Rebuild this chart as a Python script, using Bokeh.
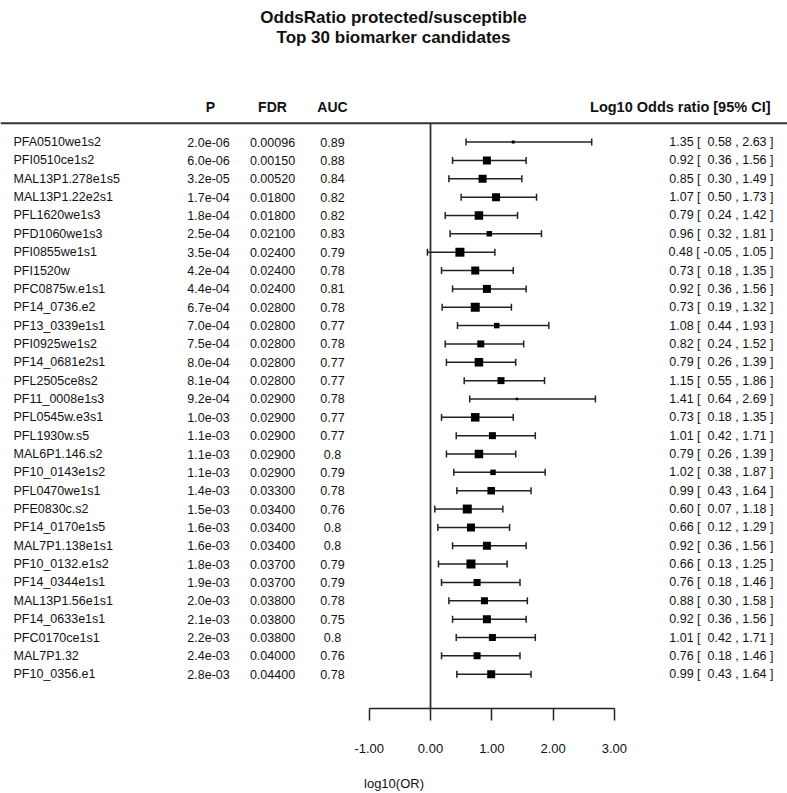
import numpy as np
from bokeh.plotting import figure
from bokeh.models import Range1d, LinearAxis, FixedTicker, NumeralTickFormatter, Span
from bokeh.core.properties import value
from bokeh.embed import file_html
from bokeh.resources import INLINE

# ---------------- data ----------------
names = ["PFA0510we1s2", "PFI0510ce1s2", "MAL13P1.278e1s5", "MAL13P1.22e2s1", "PFL1620we1s3",
         "PFD1060we1s3", "PFI0855we1s1", "PFI1520w", "PFC0875w.e1s1", "PF14_0736.e2",
         "PF13_0339e1s1", "PFI0925we1s2", "PF14_0681e2s1", "PFL2505ce8s2", "PF11_0008e1s3",
         "PFL0545w.e3s1", "PFL1930w.s5", "MAL6P1.146.s2", "PF10_0143e1s2", "PFL0470we1s1",
         "PFE0830c.s2", "PF14_0170e1s5", "MAL7P1.138e1s1", "PF10_0132.e1s2", "PF14_0344e1s1",
         "MAL13P1.56e1s1", "PF14_0633e1s1", "PFC0170ce1s1", "MAL7P1.32", "PF10_0356.e1"]
p_values = [2.0e-06, 6.0e-06, 3.2e-05, 1.7e-04, 1.8e-04, 2.5e-04, 3.5e-04, 4.2e-04, 4.4e-04, 6.7e-04,
            7.0e-04, 7.5e-04, 8.0e-04, 8.1e-04, 9.2e-04, 1.0e-03, 1.1e-03, 1.1e-03, 1.1e-03, 1.4e-03,
            1.5e-03, 1.6e-03, 1.6e-03, 1.8e-03, 1.9e-03, 2.0e-03, 2.1e-03, 2.2e-03, 2.4e-03, 2.8e-03]
fdr = [0.00096, 0.00150, 0.00520, 0.01800, 0.01800, 0.02100, 0.02400, 0.02400, 0.02400, 0.02800,
       0.02800, 0.02800, 0.02800, 0.02800, 0.02900, 0.02900, 0.02900, 0.02900, 0.02900, 0.03300,
       0.03400, 0.03400, 0.03400, 0.03700, 0.03700, 0.03800, 0.03800, 0.03800, 0.04000, 0.04400]
auc = [0.89, 0.88, 0.84, 0.82, 0.82, 0.83, 0.79, 0.78, 0.81, 0.78,
       0.77, 0.78, 0.77, 0.77, 0.78, 0.77, 0.77, 0.8, 0.79, 0.78,
       0.76, 0.8, 0.8, 0.79, 0.79, 0.78, 0.75, 0.8, 0.76, 0.78]
log_or = [1.35, 0.92, 0.85, 1.07, 0.79, 0.96, 0.48, 0.73, 0.92, 0.73,
          1.08, 0.82, 0.79, 1.15, 1.41, 0.73, 1.01, 0.79, 1.02, 0.99,
          0.60, 0.66, 0.92, 0.66, 0.76, 0.88, 0.92, 1.01, 0.76, 0.99]
ci_low = [0.58, 0.36, 0.30, 0.50, 0.24, 0.32, -0.05, 0.18, 0.36, 0.19,
          0.44, 0.24, 0.26, 0.55, 0.64, 0.18, 0.42, 0.26, 0.38, 0.43,
          0.07, 0.12, 0.36, 0.13, 0.18, 0.30, 0.36, 0.42, 0.18, 0.43]
ci_high = [2.63, 1.56, 1.49, 1.73, 1.42, 1.81, 1.05, 1.35, 1.56, 1.32,
           1.93, 1.52, 1.39, 1.86, 2.69, 1.35, 1.71, 1.39, 1.87, 1.64,
           1.18, 1.29, 1.56, 1.25, 1.46, 1.58, 1.56, 1.71, 1.46, 1.64]
box_size = [3, 8, 8, 8, 8.5, 5.5, 9, 8, 8, 9,
            5.5, 7, 8.5, 7, 2.5, 8.5, 7, 8.5, 5.5, 7.5,
            9, 8, 8, 9, 7, 7, 8, 7, 7, 8]
axis_ticks = [-1, 0, 1, 2, 3]
title_lines = ["OddsRatio protected/susceptible", "Top 30 biomarker candidates"]
col_headers = ["P", "FDR", "AUC"]
right_header = "Log10 Odds ratio [95% CI]"

# ---------------- layout ----------------
W, H = 787, 793
OFF = 0
FRAME_H = 710
X0, XS = 430 - OFF, 61.3   # fig px of log10(OR)=0, px per unit
Y0, YS = 142 - OFF, 18.4   # fig px of first row, px per row

def dx(px):
    return (px - OFF - X0) / XS

def dy(py):
    return (py - OFF - Y0) / YS

FONT_NAME = "Liberation Sans"
FONT = value(FONT_NAME)
INK = "#111111"

p = figure(width=W, height=H, output_backend="svg", toolbar_location=None,
           x_range=Range1d(dx(OFF), dx(OFF + W)),
           y_range=Range1d(dy(OFF + FRAME_H), dy(OFF)),
           x_axis_type=None, y_axis_type=None,
           min_border=0, min_border_bottom=H - FRAME_H)
p.outline_line_color = None
p.background_fill_color = "white"
p.border_fill_color = "white"

rows = np.arange(len(names), dtype=float)

# header rule
p.add_layout(Span(location=dy(123), dimension="width", line_color="#333333", line_width=2))
# zero line
p.segment(x0=[0], y0=[dy(123)], x1=[0], y1=[dy(OFF + FRAME_H)], line_color="#333333", line_width=1.8)

# CI whiskers
p.segment(x0=ci_low, y0=rows, x1=ci_high, y1=rows, line_color="#222222", line_width=1.5)
p.scatter(x=list(ci_low) + list(ci_high), y=list(rows) + list(rows), marker="dash",
          angle=np.pi / 2, size=7, line_color="#222222", line_width=1.5)
# point estimates
p.scatter(x=log_or, y=rows, marker="square", size=box_size, fill_color="black", line_color=None)

# title
for i, t in enumerate(title_lines):
    p.text(x=[dx(393)], y=[dy(17 + 20 * i)], text=[t], text_align="center", text_baseline="middle",
           text_font=FONT, text_font_style="bold", text_font_size="17px", text_color=INK)

# column headers
for h, cx in zip(col_headers, [210, 272, 332]):
    p.text(x=[dx(cx)], y=[dy(107)], text=[h], text_align="center", text_baseline="middle",
           text_font=FONT, text_font_style="bold", text_font_size="14px", text_color=INK)
p.text(x=[dx(770)], y=[dy(107)], text=[right_header], text_align="right", text_baseline="middle",
       text_font=FONT, text_font_style="bold", text_font_size="14.5px", text_color=INK)

# table columns
def col(x, texts, align):
    p.text(x=[dx(x)] * len(texts), y=rows, text=texts, text_align=align, text_baseline="middle",
           text_font=FONT, text_font_size="12.5px", text_color=INK)

col(13, names, "left")
col(208, [f"{v:.1e}" for v in p_values], "center")
col(272, [f"{v:.5f}" for v in fdr], "center")
col(332, [str(v) for v in auc], "center")
ci_txt = [f"{o:.2f} [ " + f"{lo:.2f}".rjust(5, "\u00a0") + f" , {hi:.2f} ]"
          for o, lo, hi in zip(log_or, ci_low, ci_high)]
col(773, ci_txt, "right")

# x axis
ax = LinearAxis(ticker=FixedTicker(ticks=axis_ticks), formatter=NumeralTickFormatter(format="0.00"),
                bounds=(-1, 3), major_tick_out=12, major_tick_in=0,
                minor_tick_out=0, minor_tick_in=0,
                axis_line_color="#222222", axis_line_width=1.5,
                major_tick_line_color="#222222", major_tick_line_width=1.5,
                major_label_standoff=23, major_label_text_font=FONT_NAME,
                major_label_text_font_size="13px", major_label_text_color=INK,
                axis_label="log10(OR)", axis_label_standoff=20,
                axis_label_text_font=FONT_NAME, axis_label_text_font_size="13px",
                axis_label_text_font_style="normal", axis_label_text_color=INK)
p.add_layout(ax, "below")

open("out.html", "w").write(file_html(p, INLINE))
